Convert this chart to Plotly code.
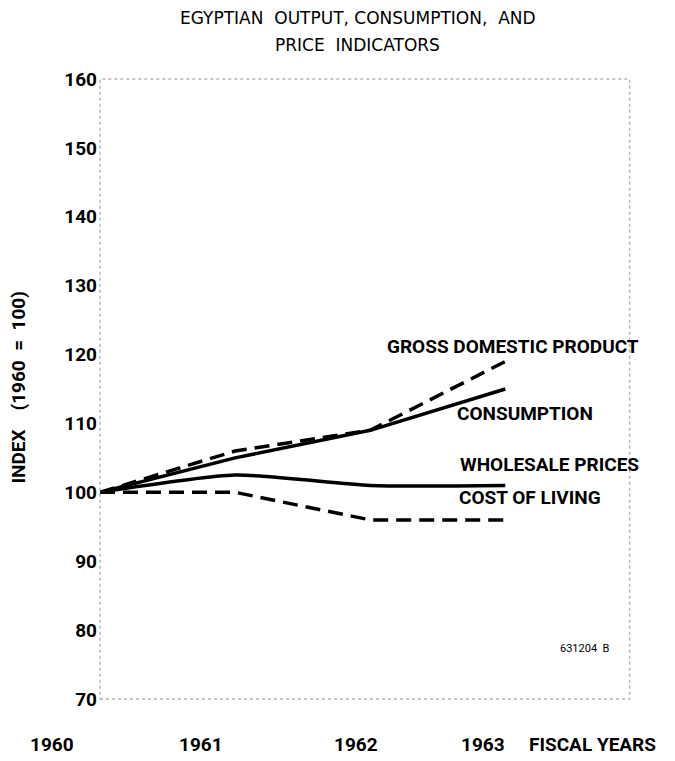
import plotly.graph_objects as go

years = [1960, 1961, 1962, 1963]
gdp = [100, 106, 109, 119]
consumption = [100, 105, 109, 115]
wholesale = [100, 102.5, 101, 101]
cost_of_living = [100, 100, 96, 96]

y_ticks = [70, 80, 90, 100, 110, 120, 130, 140, 150, 160]
year_labels = ["1960", "1961", "1962", "1963"]
label_shifts = [-48, -34, -14, -22]

BOLD = "Roboto, Liberation Sans, sans-serif"
LIGHT = "DejaVu Sans, sans-serif"
FS = 19

fig = go.Figure()
fig.add_trace(go.Scatter(x=years, y=gdp, mode="lines",
                         line=dict(color="black", width=3.5, dash="15px,8px")))
fig.add_trace(go.Scatter(x=years, y=consumption, mode="lines",
                         line=dict(color="black", width=3.5)))
fig.add_trace(go.Scatter(x=years, y=wholesale, mode="lines",
                         line=dict(color="black", width=3.5, shape="spline", smoothing=0.6)))
fig.add_trace(go.Scatter(x=years, y=cost_of_living, mode="lines",
                         line=dict(color="black", width=3.5, dash="15px,8px")))

def bold(t):
    return "<b>" + t + "</b>"

ann = []
for yr, lab, sh in zip(years, year_labels, label_shifts):
    ann.append(dict(x=yr, y=-0.074, xref="x", yref="paper", text=bold(lab),
                    showarrow=False, xshift=sh, xanchor="center", yanchor="middle",
                    font=dict(family=BOLD, size=FS, color="black")))
ann.append(dict(x=0.92, y=-0.074, xref="paper", yref="paper", text=bold("FISCAL YEARS"),
                showarrow=False, xanchor="center", yanchor="middle",
                font=dict(family=BOLD, size=FS, color="black")))
ann.append(dict(x=-0.152, y=0.502, xref="paper", yref="paper",
                text=bold("INDEX    (1960  =  100)"), textangle=-90,
                showarrow=False, xanchor="center", yanchor="middle",
                font=dict(family=BOLD, size=FS, color="black")))
ann.append(dict(x=1962.11, y=121.1, xref="x", yref="y", text=bold("GROSS DOMESTIC PRODUCT"),
                showarrow=False, xanchor="left", yanchor="middle",
                font=dict(family=BOLD, size=FS, color="black")))
ann.append(dict(x=1962.63, y=111.5, xref="x", yref="y", text=bold("CONSUMPTION"),
                showarrow=False, xanchor="left", yanchor="middle",
                font=dict(family=BOLD, size=FS, color="black")))
ann.append(dict(x=1962.65, y=104.0, xref="x", yref="y", text=bold("WHOLESALE PRICES"),
                showarrow=False, xanchor="left", yanchor="middle",
                font=dict(family=BOLD, size=FS, color="black")))
ann.append(dict(x=1962.64, y=99.3, xref="x", yref="y", text=bold("COST OF LIVING"),
                showarrow=False, xanchor="left", yanchor="middle",
                font=dict(family=BOLD, size=FS, color="black")))
ann.append(dict(x=1963.59, y=77.4, xref="x", yref="y", text="631204  B",
                showarrow=False, xanchor="center", yanchor="middle",
                font=dict(family=BOLD, size=11, color="black")))
ann.append(dict(x=0.482, y=1.098, xref="paper", yref="paper",
                text="EGYPTIAN  OUTPUT, CONSUMPTION,  AND",
                showarrow=False, xanchor="center", yanchor="middle",
                font=dict(family=LIGHT, size=17, color="black")))
ann.append(dict(x=0.482, y=1.055, xref="paper", yref="paper",
                text="PRICE  INDICATORS",
                showarrow=False, xanchor="center", yanchor="middle",
                font=dict(family=LIGHT, size=17, color="black")))

fig.update_layout(
    width=667, height=753,
    margin=dict(l=92, r=40, t=71, b=62),
    paper_bgcolor="white", plot_bgcolor="white",
    showlegend=False,
    xaxis=dict(range=[1960, 1963.96], showticklabels=False, showgrid=False,
               zeroline=False, showline=False, ticks=""),
    yaxis=dict(range=[70, 160], tickvals=y_ticks, ticktext=[bold(str(v)) for v in y_ticks],
               showgrid=False, zeroline=False, showline=False, ticks="", ticklabelstandoff=2,
               tickfont=dict(family=BOLD, size=FS, color="black")),
    annotations=ann,
    shapes=[dict(type="rect", xref="paper", yref="paper", x0=0, y0=0, x1=0.99, y1=1,
                 line=dict(color="#b5b5b5", width=1.5, dash="dot"))],
)

fig.write_html("out.html")
